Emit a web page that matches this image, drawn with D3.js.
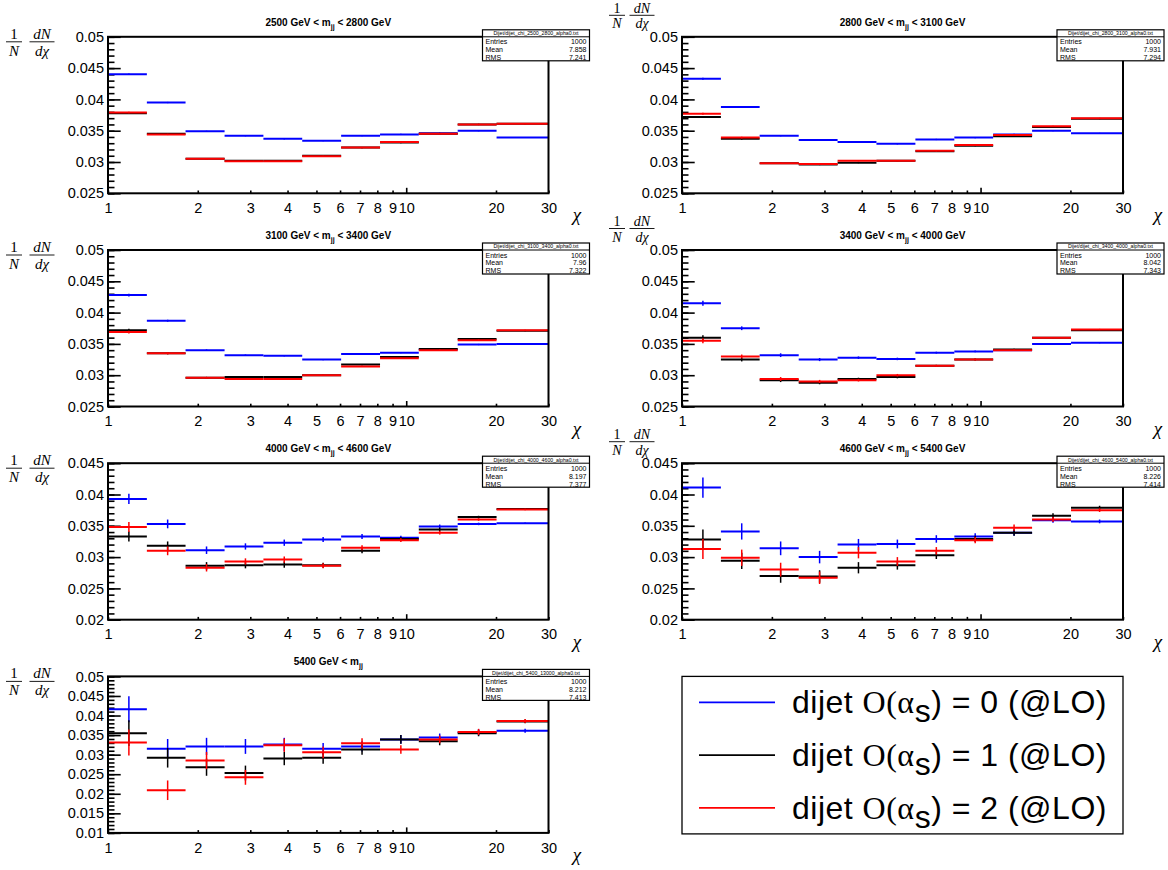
<!DOCTYPE html>
<html>
<head>
<meta charset="utf-8">
<script src="https://cdn.jsdelivr.net/npm/d3@7"></script>
<style>
  body { margin: 0; background: #fff; }
  text { font-family: "Liberation Sans", Arial, Helvetica, sans-serif; }
  .serif { font-family: "Liberation Serif", "Times New Roman", serif; }
</style>
</head>
<body>
<script>
// chi bin edges and axis ticks
var binEdges = [1, 1.35, 1.82, 2.46, 3.32, 4.48, 6.05, 8.17, 11.02, 14.88, 20.09, 30];
var xTickValues = [1, 2, 3, 4, 5, 6, 7, 8, 9, 10, 20, 30];

// mass windows (GeV) -> panel titles / file names
var massLow  = [2500, 2800, 3100, 3400, 4000, 4600, 5400];
var massHigh = [2800, 3100, 3400, 4000, 4600, 5400, 13000];
var statsMean = ["7.858", "7.931", "7.96", "8.042", "8.197", "8.226", "8.212"];
var statsRMS  = ["7.241", "7.294", "7.322", "7.343", "7.377", "7.414", "7.413"];
var statsEntries = "1000";

// y ranges for each panel
var yRanges = [[0.025, 0.05], [0.025, 0.05], [0.025, 0.05], [0.025, 0.05],
               [0.02, 0.045], [0.02, 0.045], [0.01, 0.05]];

// 1/N dN/dchi, O(alpha_s) = 0 / 1 / 2
var order0_m2500 = [0.0440, 0.0395, 0.0349, 0.0342, 0.0337, 0.0334, 0.0342, 0.0344, 0.0346, 0.0350, 0.0339];
var order1_m2500 = [0.0378, 0.0345, 0.0305, 0.0302, 0.0302, 0.0310, 0.0323, 0.0331, 0.0345, 0.0360, 0.0361];
var order2_m2500 = [0.0379, 0.0344, 0.0305, 0.0301, 0.0301, 0.0309, 0.0323, 0.0332, 0.0345, 0.0360, 0.0361];
var err_m2500    = [0.00012, 0.0001, 0.0001, 0.0001, 0.0001, 0.0001, 0.0001, 0.0001, 0.0001, 0.0001, 0.00006];

var order0_m2800 = [0.0433, 0.0388, 0.0342, 0.0335, 0.0332, 0.0329, 0.0336, 0.0339, 0.0344, 0.0350, 0.0346];
var order1_m2800 = [0.0372, 0.0337, 0.0298, 0.0296, 0.0299, 0.0302, 0.0317, 0.0326, 0.0341, 0.0356, 0.0369];
var order2_m2800 = [0.0377, 0.0339, 0.0298, 0.0297, 0.0302, 0.0302, 0.0318, 0.0327, 0.0343, 0.0357, 0.0370];
var err_m2800    = [0.00016, 0.00013, 0.0001, 0.0001, 0.0001, 0.0001, 0.0001, 0.0001, 0.0001, 0.0001, 0.00006];

var order0_m3100 = [0.0428, 0.0387, 0.0340, 0.0332, 0.0331, 0.0325, 0.0334, 0.0336, 0.0341, 0.0349, 0.0350];
var order1_m3100 = [0.0372, 0.0335, 0.0296, 0.0297, 0.0297, 0.0300, 0.0317, 0.0329, 0.0342, 0.0358, 0.0371];
var order2_m3100 = [0.0369, 0.0335, 0.0296, 0.0294, 0.0294, 0.0300, 0.0314, 0.0327, 0.0340, 0.0356, 0.0372];
var err_m3100    = [0.00022, 0.00016, 0.00013, 0.00012, 0.0001, 0.0001, 0.0001, 0.0001, 0.0001, 0.0001, 0.00006];

var order0_m3400 = [0.0415, 0.0375, 0.0332, 0.0325, 0.0328, 0.0326, 0.0336, 0.0338, 0.0340, 0.0350, 0.0352];
var order1_m3400 = [0.0360, 0.0325, 0.0292, 0.0288, 0.0294, 0.0297, 0.0315, 0.0325, 0.0341, 0.0360, 0.0372];
var order2_m3400 = [0.0355, 0.0330, 0.0294, 0.0290, 0.0292, 0.0300, 0.0315, 0.0325, 0.0340, 0.0360, 0.0373];
var err_m3400    = [0.0004, 0.0003, 0.0003, 0.00025, 0.0002, 0.0002, 0.00015, 0.00015, 0.00012, 0.0001, 0.0001];

var order0_m4000 = [0.0393, 0.0353, 0.0311, 0.0317, 0.0323, 0.0328, 0.0333, 0.0331, 0.0349, 0.0353, 0.0354];
var order1_m4000 = [0.0333, 0.0318, 0.0286, 0.0287, 0.0288, 0.0287, 0.0310, 0.0329, 0.0344, 0.0364, 0.0377];
var order2_m4000 = [0.0348, 0.0310, 0.0283, 0.0293, 0.0296, 0.0286, 0.0315, 0.0327, 0.0339, 0.0360, 0.0376];
var err_m4000    = [0.0008, 0.0007, 0.0006, 0.0005, 0.0005, 0.0004, 0.0004, 0.0003, 0.0003, 0.0002, 0.00012];

var order0_m4600 = [0.0411, 0.0341, 0.0314, 0.0300, 0.0320, 0.0321, 0.0329, 0.0333, 0.0339, 0.0359, 0.0357];
var order1_m4600 = [0.0328, 0.0294, 0.0270, 0.0269, 0.0283, 0.0287, 0.0303, 0.0329, 0.0339, 0.0366, 0.0379];
var order2_m4600 = [0.0313, 0.0299, 0.0280, 0.0267, 0.0307, 0.0293, 0.0310, 0.0327, 0.0347, 0.0360, 0.0375];
var err_m4600    = [0.0016, 0.0013, 0.0011, 0.0010, 0.0009, 0.0007, 0.0006, 0.0005, 0.0005, 0.0004, 0.0003];

var order0_m5400 = [0.0416, 0.0315, 0.0321, 0.0321, 0.0326, 0.0315, 0.0321, 0.0339, 0.0344, 0.0357, 0.0361];
var order1_m5400 = [0.0355, 0.0292, 0.0268, 0.0253, 0.0290, 0.0292, 0.0313, 0.0339, 0.0334, 0.0355, 0.0385];
var order2_m5400 = [0.0331, 0.0209, 0.0285, 0.0242, 0.0324, 0.0306, 0.0329, 0.0313, 0.0339, 0.0358, 0.0386];
var err_m5400    = [0.0033, 0.0025, 0.0022, 0.0019, 0.0017, 0.0015, 0.0013, 0.0011, 0.0010, 0.0008, 0.0005];

var seriesColors = ['#0000ff', '#000000', '#ff0000'];
var legendLabels = ['0', '1', '2'];

function plot_it () {
    var width = 1168, height = 870;
    var svg = d3.select('body').append('svg').attr('width', width).attr('height', height);

    var panels = [
        [order0_m2500, order1_m2500, order2_m2500, err_m2500],
        [order0_m2800, order1_m2800, order2_m2800, err_m2800],
        [order0_m3100, order1_m3100, order2_m3100, err_m3100],
        [order0_m3400, order1_m3400, order2_m3400, err_m3400],
        [order0_m4000, order1_m4000, order2_m4000, err_m4000],
        [order0_m4600, order1_m4600, order2_m4600, err_m4600],
        [order0_m5400, order1_m5400, order2_m5400, err_m5400]
    ];

    panels.forEach(function (p, i) {
        var col = i % 2, row = Math.floor(i / 2);
        var left = col == 0 ? 108 : 682, right = col == 0 ? 548.5 : 1123;
        var top = 36.8 + 213.2 * row, bottom = 193.3 + 213.2 * row;
        draw_panel(svg, i, p, left, right, top, bottom, col);
    });

    draw_legend(svg, 682, 1123, 36.8 + 213.2 * 3, 193.3 + 213.2 * 3 + 1);
}

function draw_panel (svg, i, p, left, right, top, bottom, col) {
    var g = svg.append('g').attr('class', 'panel');

    var x = d3.scaleLog().domain([1, 30]).range([left, right]);
    var y = d3.scaleLinear().domain(yRanges[i]).range([bottom, top]);
    var yspan = yRanges[i][1] - yRanges[i][0];

    // minor y ticks (inside)
    g.append('g')
        .attr('transform', 'translate(' + left + ',0)')
        .call(d3.axisLeft(y).ticks(Math.round(yspan / 0.001)).tickSize(-6.5).tickFormat(''))
        .call(function (a) { a.select('.domain').remove(); })
        .selectAll('line').attr('stroke-width', 1.6);

    // major y ticks + labels
    g.append('g')
        .attr('transform', 'translate(' + left + ',0)')
        .call(d3.axisLeft(y).ticks(Math.round(yspan / 0.005)).tickSize(-12.7).tickPadding(4)
            .tickFormat(function (d) { return String(+d.toFixed(3)); }))
        .call(function (a) {
            a.select('.domain').remove();
            a.selectAll('line').attr('stroke-width', 1.6);
            a.selectAll('text').attr('font-size', 14.5).attr('fill', '#000')
                .attr('font-family', '"Liberation Sans", Arial, sans-serif');
        });

    // x axis, log scale, ticks pointing up
    g.append('g')
        .attr('transform', 'translate(0,' + bottom + ')')
        .call(d3.axisBottom(x).tickValues(xTickValues).tickSize(-2.8).tickPadding(9.5)
            .tickFormat(function (d) { return d; }))
        .call(function (a) {
            a.select('.domain').remove();
            a.selectAll('line').attr('stroke-width', 1.6)
                .attr('y2', function (d) { return d == 10 ? -5.5 : -2.8; });
            a.selectAll('text').attr('font-size', 14.5).attr('fill', '#000')
                .attr('font-family', '"Liberation Sans", Arial, sans-serif');
        });

    // histograms with error bars
    var errs = p[3];
    [0, 1, 2].forEach(function (s) {
        var vals = p[s];
        var hs = g.append('g').attr('stroke', seriesColors[s]).attr('fill', 'none');
        vals.forEach(function (v, b) {
            var lo = binEdges[b], hi = binEdges[b + 1], c = (lo + hi) / 2;
            hs.append('line')
                .attr('x1', x(lo)).attr('x2', x(hi))
                .attr('y1', y(v)).attr('y2', y(v))
                .attr('stroke-width', 2);
            hs.append('line')
                .attr('x1', x(c)).attr('x2', x(c))
                .attr('y1', y(v - errs[b])).attr('y2', y(v + errs[b]))
                .attr('stroke-width', 1.5);
        });
    });

    // frame
    g.append('rect')
        .attr('x', left).attr('y', top)
        .attr('width', right - left).attr('height', bottom - top)
        .attr('fill', 'none').attr('stroke', '#000').attr('stroke-width', 2);

    // title
    var t = g.append('text')
        .attr('x', (left + right) / 2).attr('y', top - 11)
        .attr('text-anchor', 'middle').attr('font-size', 10).attr('font-weight', 'bold');
    t.append('tspan').text(massLow[i] + ' GeV < m');
    t.append('tspan').attr('font-size', 7).attr('dy', 3).text('jj');
    if (i < 6) {
        t.append('tspan').attr('dy', -3).text(' < ' + massHigh[i] + ' GeV');
    }

    // stats box
    var bx0 = right - 66, bx1 = right + 41, by0 = top - 7, by1 = top + 24;
    g.append('rect')
        .attr('x', bx0).attr('y', by0).attr('width', bx1 - bx0).attr('height', by1 - by0)
        .attr('fill', '#fff').attr('stroke', '#000').attr('stroke-width', 1.2);
    g.append('line')
        .attr('x1', bx0).attr('x2', bx1).attr('y1', top).attr('y2', top)
        .attr('stroke', '#000').attr('stroke-width', 1);
    g.append('text')
        .attr('x', (bx0 + bx1) / 2).attr('y', top - 1.6)
        .attr('text-anchor', 'middle').attr('font-size', 5.2)
        .text('Dijet/dijet_chi_' + massLow[i] + '_' + massHigh[i] + '_alpha0.txt');
    var rows = [['Entries', statsEntries], ['Mean', statsMean[i]], ['RMS', statsRMS[i]]];
    rows.forEach(function (r, k) {
        var yy = top + 7.5 + k * 7.9;
        g.append('text').attr('x', bx0 + 3).attr('y', yy).attr('font-size', 7).text(r[0]);
        g.append('text').attr('x', bx1 - 3).attr('y', yy).attr('font-size', 7)
            .attr('text-anchor', 'end').text(r[1]);
    });

    // y title: 1/N dN/dchi (right column sits above the frame, squeezed a bit)
    var cx1, cx2, barY, fs, nUp, dDown;
    if (col == 0) {
        cx1 = 14; cx2 = 42; barY = top + 5; fs = 15; nUp = 3.2; dDown = 13.8;
    } else {
        cx1 = 617; cx2 = 642; barY = top - 21.5; fs = 14; nUp = 2.5; dDown = 13;
    }
    var yt = g.append('g').attr('class', 'ytitle');
    yt.append('text').attr('class', 'serif').attr('x', cx1).attr('y', barY - nUp)
        .attr('text-anchor', 'middle').attr('font-size', fs).text('1');
    yt.append('line').attr('x1', cx1 - 8).attr('x2', cx1 + 8).attr('y1', barY).attr('y2', barY)
        .attr('stroke', '#000').attr('stroke-width', 0.9);
    yt.append('text').attr('class', 'serif').attr('x', cx1).attr('y', barY + dDown)
        .attr('text-anchor', 'middle').attr('font-size', fs).attr('font-style', 'italic').text('N');
    yt.append('text').attr('class', 'serif').attr('x', cx2).attr('y', barY - nUp)
        .attr('text-anchor', 'middle').attr('font-size', fs).attr('font-style', 'italic').text('dN');
    yt.append('line').attr('x1', cx2 - 12.5).attr('x2', cx2 + 12.5).attr('y1', barY).attr('y2', barY)
        .attr('stroke', '#000').attr('stroke-width', 0.9);
    yt.append('text').attr('class', 'serif').attr('x', cx2).attr('y', barY + dDown)
        .attr('text-anchor', 'middle').attr('font-size', fs).attr('font-style', 'italic').text('d\u03c7');

    // x title: chi
    g.append('text').attr('class', 'serif')
        .attr('x', col == 0 ? 577 : 1158).attr('y', bottom + 28)
        .attr('text-anchor', 'middle').attr('font-size', 19).attr('font-style', 'italic')
        .text('\u03c7');
}

function draw_legend (svg, x0, x1, y0, y1) {
    var lg = svg.append('g').attr('class', 'legend');
    lg.append('rect')
        .attr('x', x0).attr('y', y0).attr('width', x1 - x0).attr('height', y1 - y0)
        .attr('fill', '#fff').attr('stroke', '#000').attr('stroke-width', 1.3);

    var ly = d3.scalePoint().domain([0, 1, 2]).range([y0 + 26, y1 - 26]);

    [0, 1, 2].forEach(function (s) {
        var yy = ly(s);
        lg.append('line')
            .attr('x1', x0 + 17).attr('x2', x0 + 93)
            .attr('y1', yy).attr('y2', yy)
            .attr('stroke', seriesColors[s]).attr('stroke-width', 1.6);
        var t = lg.append('text').attr('x', x0 + 110).attr('y', yy + 11)
            .attr('font-size', 32).attr('letter-spacing', 0.5);
        t.append('tspan').text('dijet ');
        t.append('tspan').attr('class', 'serif').text('O(\u03b1');
        t.append('tspan').attr('dy', 9).text('s');
        t.append('tspan').attr('dy', -9).text(') = ' + legendLabels[s] + ' (@LO)');
    });
}

plot_it();
</script>
</body>
</html>
